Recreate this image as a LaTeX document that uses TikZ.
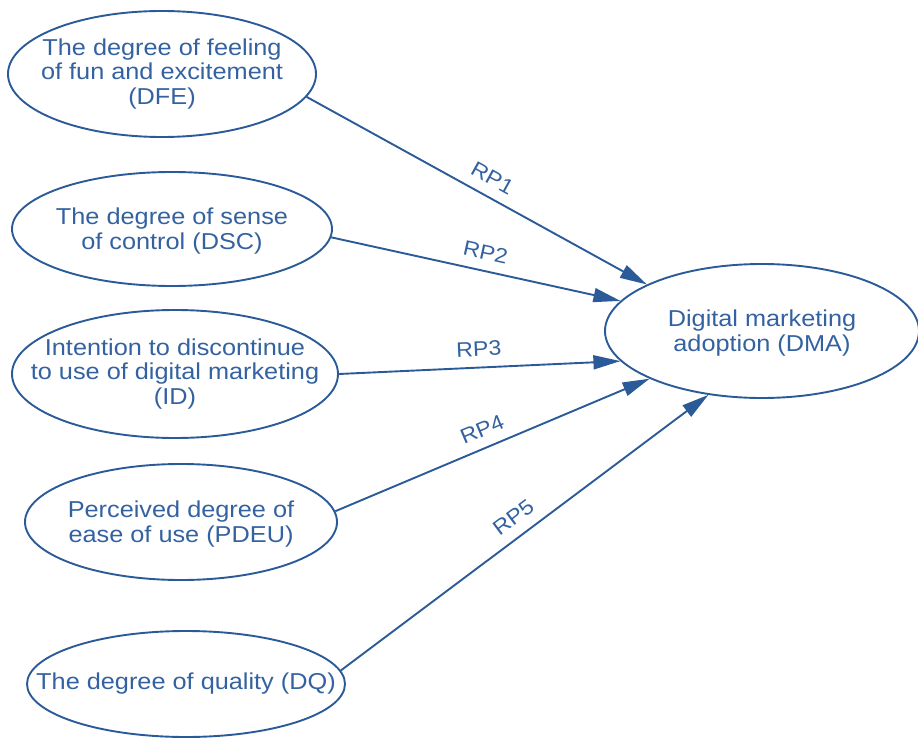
\documentclass[tikz,border=0pt]{standalone}
\usepackage{fontspec}
\setmainfont{Liberation Sans}[FakeStretch=1.1]
\usetikzlibrary{arrows.meta,shapes.geometric}
\definecolor{dblue}{RGB}{42,90,152}
\definecolor{tblue}{RGB}{52,98,160}
\begin{document}
\begin{tikzpicture}[x=1pt,y=-1pt,
  ell/.style={draw=dblue, line width=1.9pt, ellipse, inner sep=0pt},
  txt/.style={text=tblue, align=center, font=\fontsize{23}{24.5}\selectfont, inner sep=0pt},
  conn/.style={draw=dblue, line width=1.9pt, -{Triangle[length=27pt,width=14pt]}},
  rp/.style={text=tblue, font=\fontsize{21}{22}\selectfont, sloped, above=7pt, pos=#1}
]
\useasboundingbox (0,0) rectangle (918,738);
% ellipses
\node[ell, minimum width=308pt, minimum height=126pt] (dfe) at (162,74) {};
\node[ell, minimum width=320pt, minimum height=114pt] (dsc) at (172,229) {};
\node[ell, minimum width=326pt, minimum height=128pt] (id) at (175,374) {};
\node[ell, minimum width=312pt, minimum height=116pt] (pdeu) at (181,522) {};
\node[ell, minimum width=318pt, minimum height=106pt] (dq) at (186,684) {};
\node[ell, minimum width=314pt, minimum height=134pt] (dma) at (762,331) {};
% texts
\node[txt] (dfet) at (dfe) {The degree of feeling\\of fun and excitement\\(DFE)};
\node[txt] (dsct) at ([yshift=-2pt]dsc.center) {The degree of sense\\of control (DSC)};
\node[txt] (idt) at (id) {Intention to discontinue\\to use of digital marketing\\(ID)};
\node[txt] (pdeut) at ([yshift=-2pt]pdeu.center) {Perceived degree of\\ease of use (PDEU)};
\node[txt] (dqt) at (dq) {The degree of quality (DQ)};
\node[txt] (dmat) at ([yshift=-2pt]dma.center) {Digital marketing\\adoption (DMA)};
% connectors
\draw[conn] (dfe.351.5) -- node[rp=0.52] (l1) {RP1} (dma.158);
\draw[conn] (dsc.357.5) -- node[rp=0.52] (l2) {RP2} (dma.168);
\draw[conn] (id.0) -- node[rp=0.5] (l3) {RP3} (dma.192);
\draw[conn] (pdeu.4.4) -- node[rp=0.49] (l4) {RP4} (dma.203);
\draw[conn] (dq.5.7) -- node[rp=0.5] (l5) {RP5} (dma.230);
\end{tikzpicture}
\end{document}
